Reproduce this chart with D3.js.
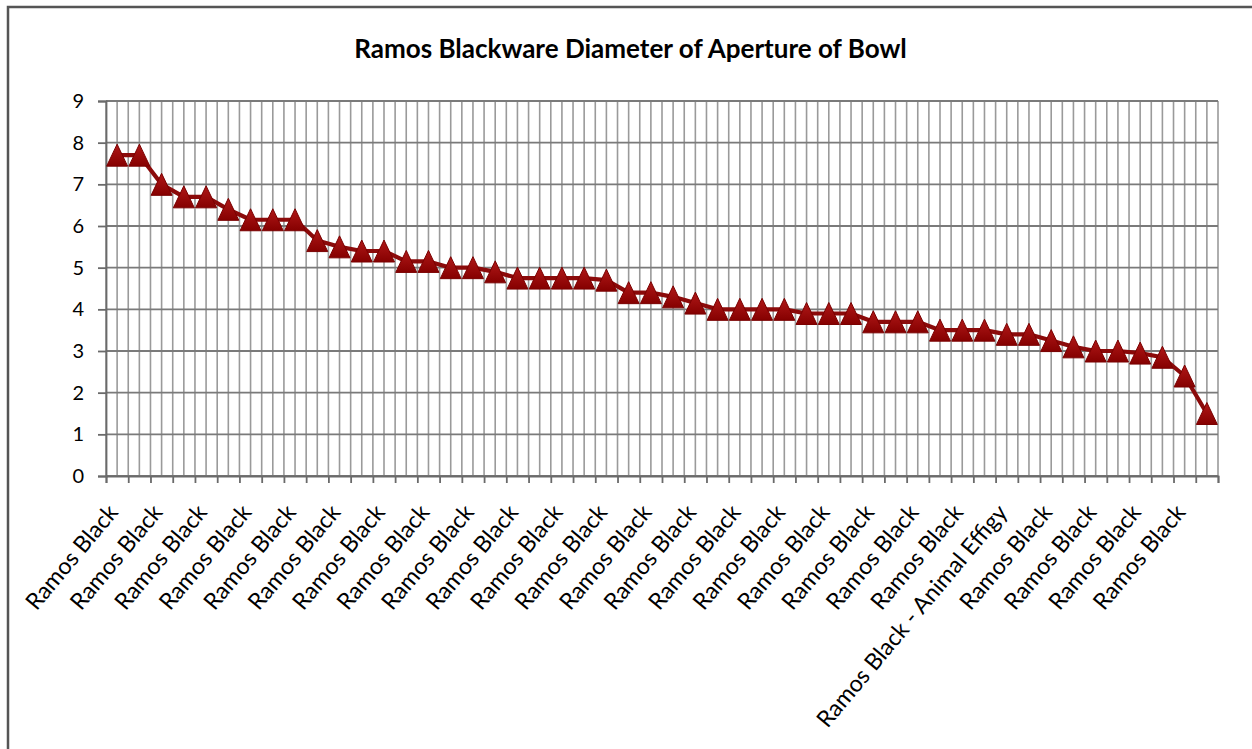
<!DOCTYPE html>
<html>
<head>
<meta charset="utf-8">
<script src="https://cdn.jsdelivr.net/npm/d3@7/dist/d3.min.js"></script>
<style>
  html, body { margin: 0; padding: 0; background: #fff; }
  svg { display: block; }
  text { font-family: Lato, "Open Sans", sans-serif; fill: #000; }
</style>
</head>
<body>
<svg id="chart" width="1252" height="749"></svg>
<script>
// Bowl aperture diameters, sorted from largest to smallest
const categories = [
  "Ramos Black", "Ramos Black", "Ramos Black", "Ramos Black", "Ramos Black",
  "Ramos Black", "Ramos Black", "Ramos Black", "Ramos Black", "Ramos Black",
  "Ramos Black", "Ramos Black", "Ramos Black", "Ramos Black", "Ramos Black",
  "Ramos Black", "Ramos Black", "Ramos Black", "Ramos Black", "Ramos Black",
  "Ramos Black", "Ramos Black", "Ramos Black", "Ramos Black", "Ramos Black",
  "Ramos Black", "Ramos Black", "Ramos Black", "Ramos Black", "Ramos Black",
  "Ramos Black", "Ramos Black", "Ramos Black", "Ramos Black", "Ramos Black",
  "Ramos Black", "Ramos Black", "Ramos Black", "Ramos Black", "Ramos Black",
  "Ramos Black - Animal Effigy", "Ramos Black", "Ramos Black", "Ramos Black", "Ramos Black",
  "Ramos Black", "Ramos Black", "Ramos Black", "Ramos Black", "Ramos Black"
];
const diameters = [
  7.7, 7.7, 7.0, 6.7, 6.7, 6.4, 6.15, 6.15, 6.15, 5.65,
  5.5, 5.4, 5.4, 5.15, 5.15, 5.0, 5.0, 4.9, 4.75, 4.75,
  4.75, 4.75, 4.7, 4.4, 4.4, 4.3, 4.15, 4.0, 4.0, 4.0,
  4.0, 3.9, 3.9, 3.9, 3.7, 3.7, 3.7, 3.5, 3.5, 3.5,
  3.4, 3.4, 3.25, 3.1, 3.0, 3.0, 2.95, 2.85, 2.4, 1.5
];
const yTicks = [0, 1, 2, 3, 4, 5, 6, 7, 8, 9];
const title = "Ramos Blackware Diameter of Aperture of Bowl";

const svg = d3.select("#chart");
const W = 1252, H = 749;
const plot = { left: 106, right: 1218, top: 101, bottom: 476 };

svg.append("rect").attr("width", W).attr("height", H).attr("fill", "#fff");

// outer frame (top and left edges)
svg.append("path")
  .attr("d", `M8,${H} L8,7 L${W},7`)
  .attr("fill", "none").attr("stroke", "#555").attr("stroke-width", 2.5);

const idx = d3.range(categories.length);
const x = d3.scaleBand().domain(idx).range([plot.left, plot.right]).padding(0);
const bw = x.bandwidth();
const xc = i => x(i) + bw / 2;
const xEdge = d3.scaleLinear().domain([0, categories.length]).range([plot.left, plot.right]);
const y = d3.scaleLinear().domain([0, 9]).range([plot.bottom, plot.top]);

// vertical gridlines: category edges and centres
const vLines = [];
idx.forEach(i => { vLines.push(x(i)); vLines.push(xc(i)); });
vLines.push(plot.right);
svg.append("g").selectAll("line").data(vLines).join("line")
  .attr("x1", d => d).attr("x2", d => d)
  .attr("y1", plot.top).attr("y2", plot.bottom)
  .attr("stroke", "#9a9a9a").attr("stroke-width", 1.6);

// horizontal gridlines
svg.append("g").selectAll("line").data(yTicks).join("line")
  .attr("x1", plot.left).attr("x2", plot.right)
  .attr("y1", d => y(d)).attr("y2", d => y(d))
  .attr("stroke", "#7a7a7a").attr("stroke-width", 1.8);

// y axis
const yAxis = svg.append("g").attr("transform", `translate(${plot.left},0)`)
  .call(d3.axisLeft(y).tickValues(yTicks).tickSize(8).tickPadding(14).tickFormat(d3.format("d")));
yAxis.select(".domain").attr("stroke", "#6a6a6a").attr("stroke-width", 1.8);
yAxis.selectAll(".tick line").attr("stroke", "#6a6a6a").attr("stroke-width", 1.8);
yAxis.selectAll(".tick text").attr("font-size", 20).attr("font-family", "Lato, sans-serif").attr("fill", "#000");

// x axis (tick marks on category edges)
const xAxis = svg.append("g").attr("transform", `translate(0,${plot.bottom})`)
  .call(d3.axisBottom(xEdge).tickValues(d3.range(categories.length + 1)).tickSize(7).tickFormat(""));
xAxis.select(".domain").attr("stroke", "#6a6a6a").attr("stroke-width", 1.8);
xAxis.selectAll(".tick line").attr("stroke", "#6a6a6a").attr("stroke-width", 1.8);

// category labels (every second category), sized so the longest spans ~282px
const labels = svg.append("g").selectAll("text")
  .data(idx.filter(i => i % 2 === 0)).join("text")
  .attr("transform", i => `translate(${xc(i) + 2},${plot.bottom + 37}) rotate(-50)`)
  .attr("text-anchor", "end")
  .attr("font-size", 20)
  .text(i => categories[i]);
const longest = d3.max(labels.nodes(), n => n.getComputedTextLength());
labels.attr("font-size", 20 * 282 / longest);

// series line
const line = d3.line().x((d, i) => xc(i)).y(d => y(d));
svg.append("path").datum(diameters)
  .attr("d", line)
  .attr("fill", "none").attr("stroke", "#8b0a0a").attr("stroke-width", 4.2)
  .attr("stroke-linejoin", "round");

// triangle markers
const defs = svg.append("defs");
const grad = defs.append("linearGradient").attr("id", "mk").attr("x1", 0).attr("y1", 0).attr("x2", 0).attr("y2", 1);
grad.append("stop").attr("offset", "0%").attr("stop-color", "#b01818");
grad.append("stop").attr("offset", "100%").attr("stop-color", "#850000");
const tw = 21, th = 22;
svg.append("g").selectAll("path").data(diameters).join("path")
  .attr("transform", (d, i) => `translate(${xc(i)},${y(d)})`)
  .attr("d", `M0,${-th / 2} L${tw / 2},${th / 2} L${-tw / 2},${th / 2} Z`)
  .attr("fill", "url(#mk)").attr("stroke", "#7a0000").attr("stroke-width", 1);

// title, sized to its span
const t = svg.append("text")
  .attr("x", 630.5).attr("y", 58)
  .attr("text-anchor", "middle")
  .attr("font-weight", "bold")
  .attr("font-size", 22)
  .text(title);
const len = t.node().getComputedTextLength();
t.attr("font-size", 22 * 553 / len);
</script>
</body>
</html>
